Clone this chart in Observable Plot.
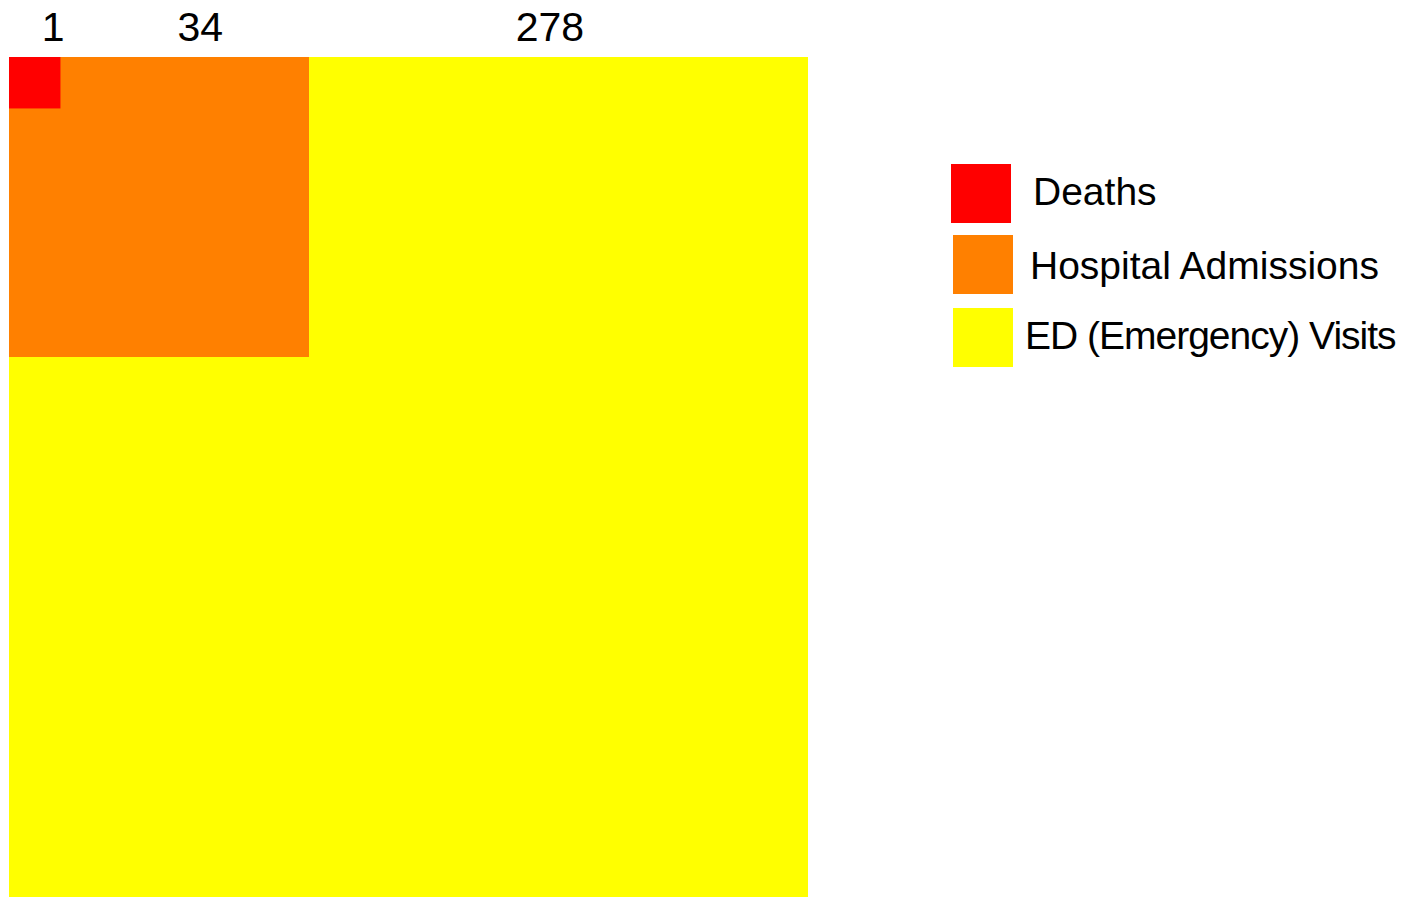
<!DOCTYPE html>
<html>
<head>
<meta charset="utf-8">
<script src="https://cdn.jsdelivr.net/npm/d3@7"></script>
<script src="https://cdn.jsdelivr.net/npm/@observablehq/plot@0.6"></script>
<style>
  html, body { margin: 0; padding: 0; background: #fff; }
  body { font-family: "Liberation Sans", Arial, sans-serif; }
  #wrap { position: relative; width: 1411px; height: 897px; overflow: hidden; }
  #chart { position: absolute; left: 0; top: 0; }
  .swatch { position: absolute; width: 60px; height: 59px; }
  .legend-label { position: absolute; font-size: 39px; color: #000; white-space: nowrap; line-height: 1; }
</style>
</head>
<body>
<div id="wrap">
  <div id="chart"></div>
  <div id="legend"></div>
</div>
<script>
// Counts per outcome level
const categories = ["ED (Emergency) Visits", "Hospital Admissions", "Deaths"];
const counts = [278, 34, 1];
const colors = ["#ffff00", "#ff8000", "#ff0000"];
const legendOrder = ["Deaths", "Hospital Admissions", "ED (Emergency) Visits"];

const rows = categories.map((name, i) => ({name, value: counts[i], color: colors[i]}));

// square side proportional to sqrt(count); the plotting frame crops the biggest square
const frameW = 799, frameH = 840, unitPx = 300 / Math.sqrt(34);
// where along its square's top edge each number sits (fraction of side)
const labelFrac = {"Deaths": 0.85, "Hospital Admissions": 0.636, "ED (Emergency) Visits": 0.63};

const chart = Plot.plot({
  width: 1411,
  height: 897,
  marginLeft: 9,
  marginRight: 1411 - 9 - frameW,
  marginTop: 57,
  marginBottom: 0,
  x: {domain: [0, frameW / unitPx], axis: null},
  y: {domain: [0, frameH / unitPx], reverse: true, axis: null},
  style: {fontFamily: "'Liberation Sans', Arial, sans-serif", background: "transparent"},
  marks: [
    Plot.rect(rows, {
      x1: 0, y1: 0,
      x2: d => Math.sqrt(d.value),
      y2: d => Math.sqrt(d.value),
      fill: d => d.color,
      clip: true
    }),
    Plot.text(rows, {
      x: d => Math.sqrt(d.value) * labelFrac[d.name],
      y: 0,
      text: d => String(d.value),
      fontSize: 41,
      fill: "#000",
      lineAnchor: "bottom",
      dy: -17,
      textAnchor: "middle"
    })
  ]
});
document.getElementById("chart").appendChild(chart);

// legend to the right of the squares
const legendPos = [
  {sx: 951, sy: 164, tx: 1033, ty: 172, ls: 0},
  {sx: 953, sy: 235, tx: 1030, ty: 246, ls: 0},
  {sx: 953, sy: 308, tx: 1025, ty: 316, ls: -1}
];
const legend = document.getElementById("legend");
legendOrder.forEach((name, i) => {
  const row = rows.find(r => r.name === name);
  const p = legendPos[i];
  const sw = document.createElement("div");
  sw.className = "swatch";
  sw.style.left = p.sx + "px";
  sw.style.top = p.sy + "px";
  sw.style.background = row.color;
  legend.appendChild(sw);
  const lab = document.createElement("div");
  lab.className = "legend-label";
  lab.textContent = name;
  lab.style.left = p.tx + "px";
  lab.style.top = p.ty + "px";
  lab.style.letterSpacing = p.ls + "px";
  legend.appendChild(lab);
});
</script>
</body>
</html>
